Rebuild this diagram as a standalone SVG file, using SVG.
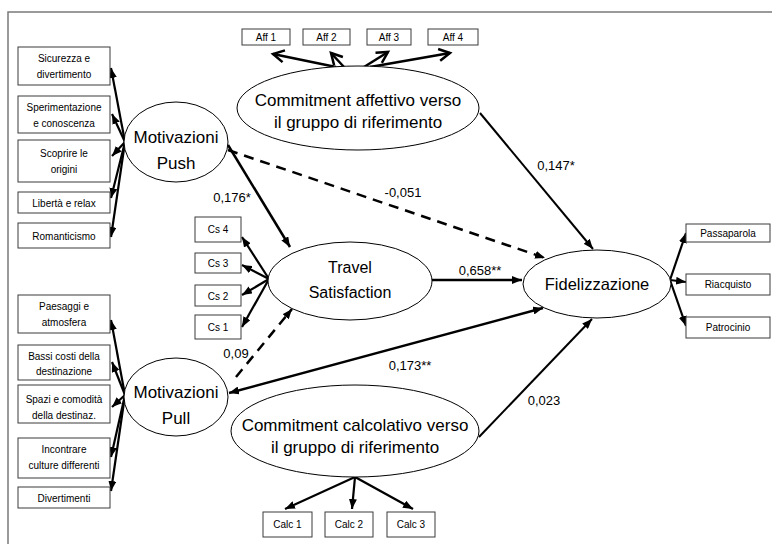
<svg xmlns="http://www.w3.org/2000/svg" width="772" height="544" viewBox="0 0 772 544">
<defs>
<style>
.box{fill:#fff;stroke:#3a3a3a;stroke-width:1}
.ell{fill:#fff;stroke:#000;stroke-width:1}
.bt{font-family:"Liberation Sans",Arial,sans-serif;font-size:10px;fill:#000;text-anchor:middle}
.et{font-family:"Liberation Sans",Arial,sans-serif;font-size:17px;fill:#000;text-anchor:middle}
.lab{font-family:"Liberation Sans",Arial,sans-serif;font-size:13px;fill:#000;text-anchor:middle}
.ind{stroke:#000;stroke-width:2.2;fill:none;marker-end:url(#tri)}
.aff{stroke:#000;stroke-width:2.5;fill:none;marker-end:url(#open)}
.path{stroke:#000;stroke-width:2.5;fill:none;marker-end:url(#tri)}
.thin{stroke:#000;stroke-width:2;fill:none;marker-end:url(#tri)}
.dash{stroke-dasharray:10,7}
</style>
<marker id="tri" viewBox="0 0 10 8" refX="10" refY="4" markerWidth="10" markerHeight="8" markerUnits="userSpaceOnUse" orient="auto"><path d="M0,0 L10,4 L0,8 z" fill="#000"/></marker>
<marker id="triS" viewBox="0 0 10 8" refX="10" refY="4" markerWidth="10" markerHeight="8" markerUnits="userSpaceOnUse" orient="auto-start-reverse"><path d="M0,0 L10,4 L0,8 z" fill="#000"/></marker>
<marker id="open" viewBox="0 0 14 14" refX="12" refY="7" markerWidth="14" markerHeight="14" markerUnits="userSpaceOnUse" orient="auto" overflow="visible"><path d="M1,1 L12,7 L1,13" fill="none" stroke="#000" stroke-width="2.5"/></marker>
</defs>
<rect width="772" height="544" fill="#fff"/>
<path d="M8,544 L8,12 L772,12" fill="none" stroke="#7a7a7a" stroke-width="1.5"/>

<g id="connectors">
<!-- push indicators -->
<line class="ind" x1="125" y1="142" x2="111" y2="68"/>
<line class="ind" x1="125" y1="142" x2="112" y2="114"/>
<line class="ind" x1="125" y1="142" x2="112" y2="156"/>
<line class="ind" x1="125" y1="142" x2="111" y2="198"/>
<line class="ind" x1="125" y1="142" x2="111" y2="237"/>
<!-- pull indicators -->
<line class="ind" x1="125" y1="395" x2="111" y2="320"/>
<line class="ind" x1="125" y1="395" x2="112" y2="362"/>
<line class="ind" x1="125" y1="395" x2="112" y2="407"/>
<line class="ind" x1="125" y1="395" x2="111" y2="457"/>
<line class="ind" x1="125" y1="395" x2="111" y2="491"/>
<!-- Cs indicators -->
<line class="ind" x1="269" y1="279" x2="242" y2="237"/>
<line class="ind" x1="269" y1="279" x2="242" y2="265"/>
<line class="ind" x1="269" y1="279" x2="242" y2="295"/>
<line class="ind" x1="269" y1="279" x2="242" y2="327"/>
<!-- Fid indicators -->
<line class="ind" x1="670" y1="280" x2="686" y2="233"/>
<line class="ind" x1="670" y1="280" x2="686" y2="282"/>
<line class="ind" x1="670" y1="280" x2="686" y2="326"/>
<!-- Calc indicators -->
<line class="ind" x1="355" y1="477" x2="285" y2="509"/>
<line class="ind" x1="355" y1="477" x2="352" y2="509"/>
<line class="ind" x1="355" y1="477" x2="413" y2="509"/>
<!-- Aff indicators -->
<line class="aff" x1="336" y1="67" x2="273" y2="54"/>
<line class="aff" x1="344" y1="67" x2="331" y2="53"/>
<line class="aff" x1="364" y1="67" x2="388" y2="52"/>
<line class="aff" x1="370" y1="67" x2="450" y2="53"/>
<!-- structural paths -->
<line class="path" x1="228" y1="145" x2="290" y2="247"/>
<line class="path dash" x1="228" y1="150" x2="545" y2="258"/>
<line class="thin" x1="480" y1="113" x2="593" y2="249"/>
<line class="path" x1="432" y1="280" x2="522" y2="280"/>
<line class="path dash" x1="236" y1="377" x2="292" y2="309"/>
<line class="path" x1="229" y1="393" x2="543" y2="308" marker-start="url(#triS)"/>
<line class="thin" x1="479" y1="437" x2="592" y2="319"/>
</g>

<g id="labels">
<text class="lab" x="232" y="202">0,176*</text>
<text class="lab" x="403" y="197">-0,051</text>
<text class="lab" x="556" y="170">0,147*</text>
<text class="lab" x="480" y="275">0,658**</text>
<text class="lab" x="236" y="358">0,09</text>
<text class="lab" x="410" y="370">0,173**</text>
<text class="lab" x="544" y="405">0,023</text>
</g>

<g id="push-items">
<g id="sicurezza"><rect class="box" x="18" y="47" width="92" height="38"/><text class="bt" x="64" y="62">Sicurezza e</text><text class="bt" x="64" y="78">divertimento</text></g>
<g id="sperimentazione"><rect class="box" x="18" y="96" width="92" height="37"/><text class="bt" x="64" y="111">Sperimentazione</text><text class="bt" x="64" y="127">e conoscenza</text></g>
<g id="scoprire"><rect class="box" x="18" y="140" width="92" height="42"/><text class="bt" x="64" y="157">Scoprire le</text><text class="bt" x="64" y="173">origini</text></g>
<g id="liberta"><rect class="box" x="18" y="192" width="92" height="21"/><text class="bt" x="64" y="207">Libertà e relax</text></g>
<g id="romanticismo"><rect class="box" x="18" y="223" width="92" height="25"/><text class="bt" x="64" y="240">Romanticismo</text></g>
</g>

<g id="pull-items">
<g id="paesaggi"><rect class="box" x="18" y="295" width="92" height="38"/><text class="bt" x="64" y="310">Paesaggi e</text><text class="bt" x="64" y="326">atmosfera</text></g>
<g id="bassi"><rect class="box" x="18" y="345" width="92" height="35"/><text class="bt" x="64" y="360">Bassi costi della</text><text class="bt" x="64" y="375">destinazione</text></g>
<g id="spazi"><rect class="box" x="18" y="385" width="92" height="38"/><text class="bt" x="64" y="403">Spazi e comodità</text><text class="bt" x="64" y="419">della destinaz.</text></g>
<g id="incontrare"><rect class="box" x="18" y="438" width="92" height="40"/><text class="bt" x="64" y="453">Incontrare</text><text class="bt" x="64" y="469">culture differenti</text></g>
<g id="divertimenti"><rect class="box" x="18" y="487" width="92" height="21"/><text class="bt" x="64" y="502">Divertimenti</text></g>
</g>

<g id="cs-items">
<g id="cs4"><rect class="box" x="195" y="217" width="46" height="25"/><text class="bt" x="218" y="233">Cs 4</text></g>
<g id="cs3"><rect class="box" x="195" y="253" width="46" height="20"/><text class="bt" x="218" y="267">Cs 3</text></g>
<g id="cs2"><rect class="box" x="195" y="285" width="46" height="21"/><text class="bt" x="218" y="300">Cs 2</text></g>
<g id="cs1"><rect class="box" x="195" y="315" width="46" height="24"/><text class="bt" x="218" y="331">Cs 1</text></g>
</g>

<g id="aff-items">
<g id="aff1"><rect class="box" x="242" y="29" width="48" height="16"/><text class="bt" x="266" y="41">Aff 1</text></g>
<g id="aff2"><rect class="box" x="303" y="29" width="47" height="16"/><text class="bt" x="326.5" y="41">Aff 2</text></g>
<g id="aff3"><rect class="box" x="367" y="29" width="44" height="16"/><text class="bt" x="389" y="41">Aff 3</text></g>
<g id="aff4"><rect class="box" x="428" y="29" width="50" height="16"/><text class="bt" x="453" y="41">Aff 4</text></g>
</g>

<g id="fid-items">
<g id="passaparola"><rect class="box" x="686" y="224" width="84" height="18"/><text class="bt" x="728" y="237">Passaparola</text></g>
<g id="riacquisto"><rect class="box" x="686" y="274" width="84" height="21"/><text class="bt" x="728" y="288">Riacquisto</text></g>
<g id="patrocinio"><rect class="box" x="686" y="317" width="84" height="21"/><text class="bt" x="728" y="331">Patrocinio</text></g>
</g>

<g id="calc-items">
<g id="calc1"><rect class="box" x="263" y="512" width="49" height="25"/><text class="bt" x="287.5" y="528">Calc 1</text></g>
<g id="calc2"><rect class="box" x="325" y="512" width="48" height="25"/><text class="bt" x="349" y="528">Calc 2</text></g>
<g id="calc3"><rect class="box" x="387" y="512" width="48" height="25"/><text class="bt" x="411" y="528">Calc 3</text></g>
</g>

<g id="motivazioni-push"><ellipse class="ell" cx="176" cy="142" rx="52" ry="40"/><text class="et" x="176" y="143">Motivazioni</text><text class="et" x="176" y="169">Push</text></g>
<g id="motivazioni-pull"><ellipse class="ell" cx="176" cy="397" rx="52" ry="39"/><text class="et" x="176" y="398">Motivazioni</text><text class="et" x="176" y="424">Pull</text></g>
<g id="travel-satisfaction"><ellipse class="ell" cx="350" cy="281" rx="82" ry="39"/><text class="et" x="350" y="273" style="font-size:16px">Travel</text><text class="et" x="350" y="298" style="font-size:16px">Satisfaction</text></g>
<g id="fidelizzazione"><ellipse class="ell" cx="597" cy="284" rx="74" ry="34"/><text class="et" x="597" y="290" style="font-size:16.5px">Fidelizzazione</text></g>
<g id="commitment-affettivo"><ellipse class="ell" cx="358" cy="108" rx="121" ry="42"/><text class="et" x="358" y="106">Commitment affettivo verso</text><text class="et" x="358" y="128">il gruppo di riferimento</text></g>
<g id="commitment-calcolativo"><ellipse class="ell" cx="355" cy="431" rx="124" ry="46"/><text class="et" x="355" y="431">Commitment calcolativo verso</text><text class="et" x="355" y="453">il gruppo di riferimento</text></g>
</svg>
